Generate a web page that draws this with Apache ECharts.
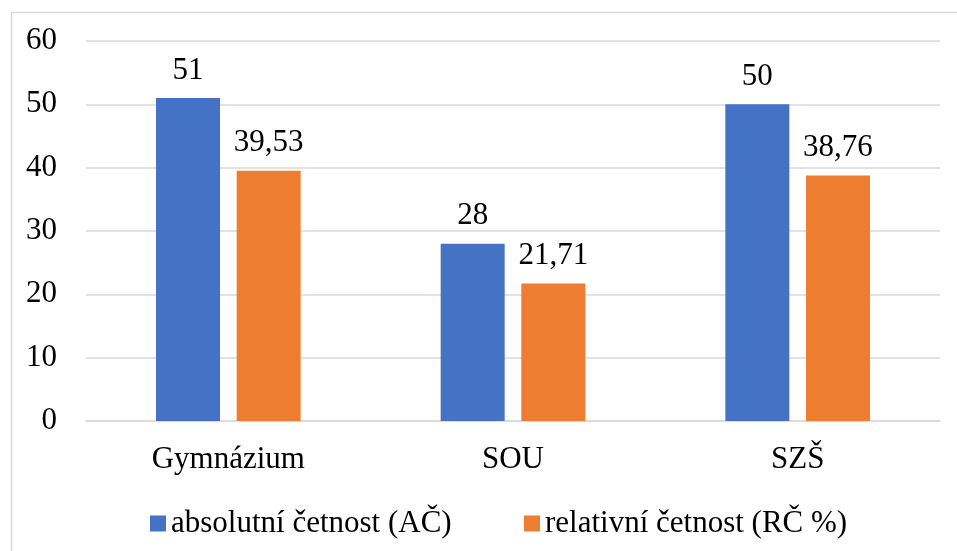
<!DOCTYPE html>
<html>
<head>
<meta charset="utf-8">
<script src="https://cdn.jsdelivr.net/npm/echarts@6/dist/echarts.min.js"></script>
<style>
  html, body { margin: 0; padding: 0; background: #fff; }
  #chart { width: 957px; height: 551px; }
</style>
</head>
<body>
<div id="chart"></div>
<script>
// data
const categories = ["Gymnázium", "SOU", "SZŠ"];
const seriesNames = ["absolutní četnost (AČ)", "relativní četnost (RČ %)"];
const absolutni = [51, 28, 50];
const relativni = [39.53, 21.71, 38.76];

const FONT = "Liberation Serif, Times New Roman, serif";
const FS = 31;
const colors = ["#4472C4", "#ED7D31"];

function commaLabel(p) {
  return String(p.value).replace(".", ",");
}

function barSeries(name, data, color) {
  return {
    name: name,
    type: "bar",
    data: data,
    barWidth: 64,
    barGap: "26%",
    itemStyle: { color: color },
    label: {
      show: true,
      position: "top",
      distance: 12,
      color: "#000",
      fontFamily: FONT,
      fontSize: FS,
      formatter: commaLabel
    }
  };
}

let myChart = echarts.init(document.getElementById("chart"));
myChart.setOption({
  animation: false,
  textStyle: { fontFamily: FONT },
  graphic: [
    {
      type: "rect",
      left: 9,
      top: 10,
      shape: { width: 1000, height: 600 },
      style: { fill: "none", stroke: "#D9D9D9", lineWidth: 1.5 },
      z: -1
    }
  ],
  grid: { left: 86, right: 17, top: 41, bottom: 130, containLabel: false, outerBoundsMode: "none" },
  legend: [
    {
      data: [seriesNames[0]],
      left: 145,
      top: 503,
      itemWidth: 16,
      itemHeight: 16,
      itemGap: 7,
      icon: "rect",
      textStyle: { fontFamily: FONT, fontSize: FS, color: "#000" }
    },
    {
      data: [seriesNames[1]],
      left: 519,
      top: 503,
      itemWidth: 16,
      itemHeight: 16,
      itemGap: 7,
      icon: "rect",
      textStyle: { fontFamily: FONT, fontSize: FS, color: "#000" }
    }
  ],
  xAxis: {
    type: "category",
    data: categories,
    axisLine: { lineStyle: { color: "#D9D9D9", width: 1.5 } },
    axisTick: { show: false },
    axisLabel: { margin: 23, color: "#000", fontFamily: FONT, fontSize: FS }
  },
  yAxis: {
    type: "value",
    min: 0,
    max: 60,
    interval: 10,
    axisLine: { show: false },
    axisTick: { show: false },
    splitLine: { lineStyle: { color: "#D9D9D9", width: 1.5 } },
    axisLabel: { margin: 29, color: "#000", fontFamily: FONT, fontSize: FS }
  },
  series: [
    barSeries(seriesNames[0], absolutni, colors[0]),
    barSeries(seriesNames[1], relativni, colors[1])
  ]
});
</script>
</body>
</html>
